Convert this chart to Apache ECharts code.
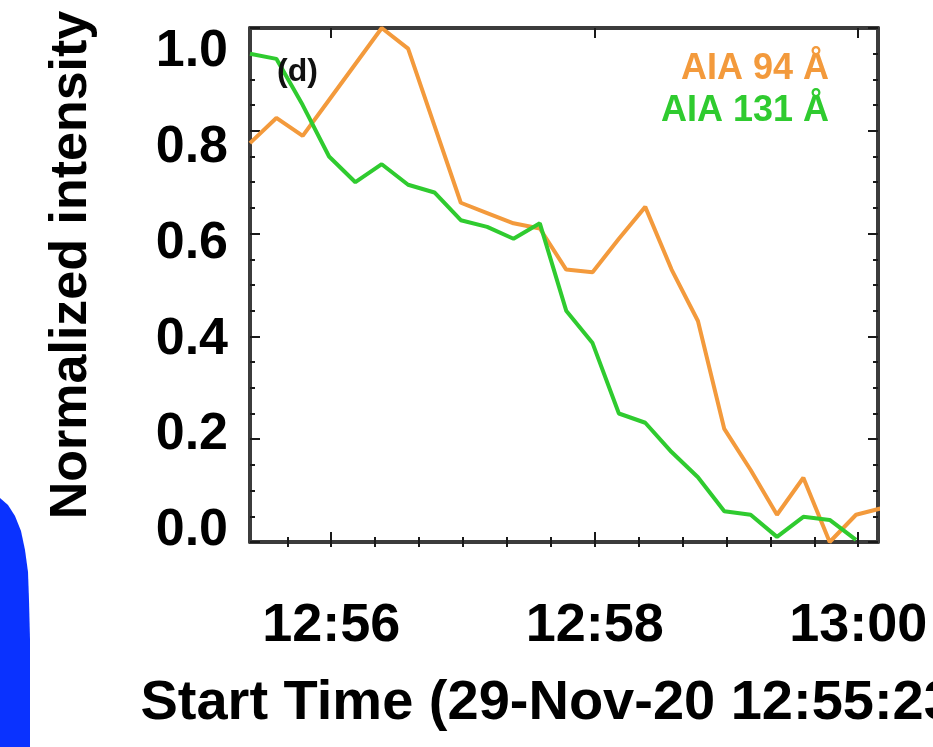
<!DOCTYPE html>
<html>
<head>
<meta charset="utf-8">
<script src="https://cdn.jsdelivr.net/npm/echarts@6/dist/echarts.min.js"></script>
<style>
  html, body { margin: 0; padding: 0; background: #ffffff; }
  #chart { width: 933px; height: 747px; }
</style>
</head>
<body>
<div id="chart"></div>
<script>
// AIA sample times (12 s cadence)
const sampleTimes = [
  '12:55:23', '12:55:35', '12:55:47', '12:55:59', '12:56:11', '12:56:23',
  '12:56:35', '12:56:47', '12:56:59', '12:57:11', '12:57:23', '12:57:35',
  '12:57:47', '12:57:59', '12:58:11', '12:58:23', '12:58:35', '12:58:47',
  '12:58:59', '12:59:11', '12:59:23', '12:59:35', '12:59:47', '12:59:59',
  '13:00:11'
];

// Normalized light curves
const aia94 = [
  0.776, 0.825, 0.79, 0.86, 0.93, 1.0, 0.96, 0.81, 0.66, 0.64, 0.62, 0.61,
  0.53, 0.525, 0.59, 0.652, 0.53, 0.43, 0.22, 0.14, 0.053, 0.125, 0.0, 0.053,
  0.066
];
const aia131 = [
  0.95, 0.94, 0.85, 0.75, 0.70, 0.735, 0.695, 0.68, 0.626, 0.613, 0.59, 0.62,
  0.45, 0.387, 0.25, 0.232, 0.175, 0.126, 0.06, 0.053, 0.01, 0.049, 0.043,
  0.004
];

// Axis labels
const timeTickLabels = ['12:56', '12:58', '13:00'];
const intensityTickLabels = ['0.0', '0.2', '0.4', '0.6', '0.8', '1.0'];
const axisStart = '12:55:23';
const axisEnd = '13:00:09';
const xTitle = 'Start Time (29-Nov-20 12:55:23)';
const yTitle = 'Normalized intensity';
const panelTag = '(d)';

const ORANGE = '#f39a3c';
const GREEN = '#2fcb2f';
const FRAME = '#3c3c3c';
const FONT = '"Liberation Sans", Arial, Helvetica, sans-serif';

function toSec(s) {
  const p = s.split(':').map(Number);
  return p[0] * 3600 + p[1] * 60 + (p[2] || 0);
}
function hhmm(sec) {
  const h = Math.floor(sec / 3600);
  const m = Math.round((sec % 3600) / 60);
  return h + ':' + String(m).padStart(2, '0');
}

const xMin = toSec(axisStart);
const xMax = toSec(axisEnd);
const majorTimes = timeTickLabels.map(toSec);
// minor ticks every 20 s across the window
const minorTimes = [];
for (let t = Math.ceil(xMin / 20) * 20; t <= xMax; t += 20) minorTimes.push(t);

const series94 = aia94.map((v, i) => [toSec(sampleTimes[i]), v]);
const series131 = aia131.map((v, i) => [toSec(sampleTimes[i]), v]);

const chart = echarts.init(document.getElementById('chart'), null, { renderer: 'canvas' });

const frameLine = { show: true, onZero: false, lineStyle: { color: FRAME, width: 4 } };
const tickStyle = { color: '#1a1a1a', width: 2 };

function xBox(position, withLabels) {
  return {
    type: 'value', min: xMin, max: xMax, position: position,
    axisLine: frameLine,
    axisTick: { show: true, inside: true, length: 10, customValues: majorTimes, lineStyle: tickStyle },
    axisLabel: withLabels ? {
      show: true, customValues: majorTimes, formatter: v => hhmm(v),
      fontSize: 54, fontWeight: 'bold', color: '#000', margin: 57, fontFamily: FONT
    } : { show: false },
    splitLine: { show: false }
  };
}
function xMinor(position) {
  return {
    type: 'value', min: xMin, max: xMax, position: position,
    axisLine: { show: false },
    axisTick: { show: true, inside: true, length: 5, customValues: minorTimes, lineStyle: tickStyle },
    axisLabel: { show: false },
    splitLine: { show: false }
  };
}
function yBox(position) {
  return {
    type: 'value', min: 0, max: 1, interval: 0.2, position: position,
    axisLine: frameLine,
    axisTick: { show: true, inside: true, length: 10, lineStyle: tickStyle },
    minorTick: { show: true, splitNumber: 4, length: 5, lineStyle: tickStyle },
    axisLabel: { show: false },
    splitLine: { show: false },
    minorSplitLine: { show: false }
  };
}

const option = {
  backgroundColor: '#ffffff',
  animation: false,
  textStyle: { fontFamily: FONT },
  grid: { left: 250, right: 55, top: 28, bottom: 205, containLabel: false, outerBoundsMode: 'none' },
  legend: {
    orient: 'vertical', right: 94, top: 46, align: 'right',
    itemWidth: 0, itemHeight: 0, itemGap: 6, selectedMode: false,
    textStyle: { fontSize: 36, fontWeight: 'bold', fontFamily: FONT },
    data: [
      { name: 'AIA 94 Å', icon: 'none', textStyle: { color: ORANGE } },
      { name: 'AIA 131 Å', icon: 'none', textStyle: { color: GREEN } }
    ]
  },
  xAxis: [
    Object.assign(xBox('bottom', true), {
      name: xTitle, nameLocation: 'middle', nameGap: 134,
      nameTextStyle: {
        fontSize: 56, fontWeight: 'bold', color: '#000', fontFamily: FONT,
        padding: [0, 14, 0, 0]
      }
    }),
    xBox('top', false),
    xMinor('bottom'),
    xMinor('top')
  ],
  yAxis: [
    yBox('left'),
    yBox('right'),
    {
      // label scale for the intensity tick values
      type: 'value', min: -0.0229, max: 1.0488, position: 'left',
      axisLine: { show: false }, axisTick: { show: false },
      axisLabel: {
        show: true, customValues: intensityTickLabels.map(Number),
        formatter: v => v.toFixed(1),
        fontSize: 52, fontWeight: 'bold', color: '#000', margin: 22, fontFamily: FONT
      },
      splitLine: { show: false },
      name: yTitle, nameLocation: 'middle', nameGap: 152, nameRotate: 90,
      nameTextStyle: { fontSize: 52, fontWeight: 'bold', color: '#000', fontFamily: FONT, padding: [0, 0, 0, 40] }
    }
  ],
  graphic: [
    {
      type: 'text', left: 277, top: 56, z: 10,
      style: { text: panelTag, font: 'bold 32px ' + FONT, fill: '#111' }
    },
    {
      // edge of the neighbouring panel's blue outline
      type: 'polygon', z: 10,
      shape: {
        points: [[0, 498], [8, 505], [15, 516], [21, 531], [25, 550], [28, 572],
                 [29, 600], [30, 640], [30, 747], [0, 747]]
      },
      style: { fill: '#0a32ff' }
    }
  ],
  series: [
    {
      name: 'AIA 94 Å', type: 'line', xAxisIndex: 0, yAxisIndex: 0,
      data: series94, showSymbol: false, clip: true,
      lineStyle: { color: ORANGE, width: 4 }, itemStyle: { color: ORANGE }
    },
    {
      name: 'AIA 131 Å', type: 'line', xAxisIndex: 0, yAxisIndex: 0,
      data: series131, showSymbol: false, clip: true,
      lineStyle: { color: GREEN, width: 4 }, itemStyle: { color: GREEN }
    }
  ]
};

chart.setOption(option);
</script>
</body>
</html>
